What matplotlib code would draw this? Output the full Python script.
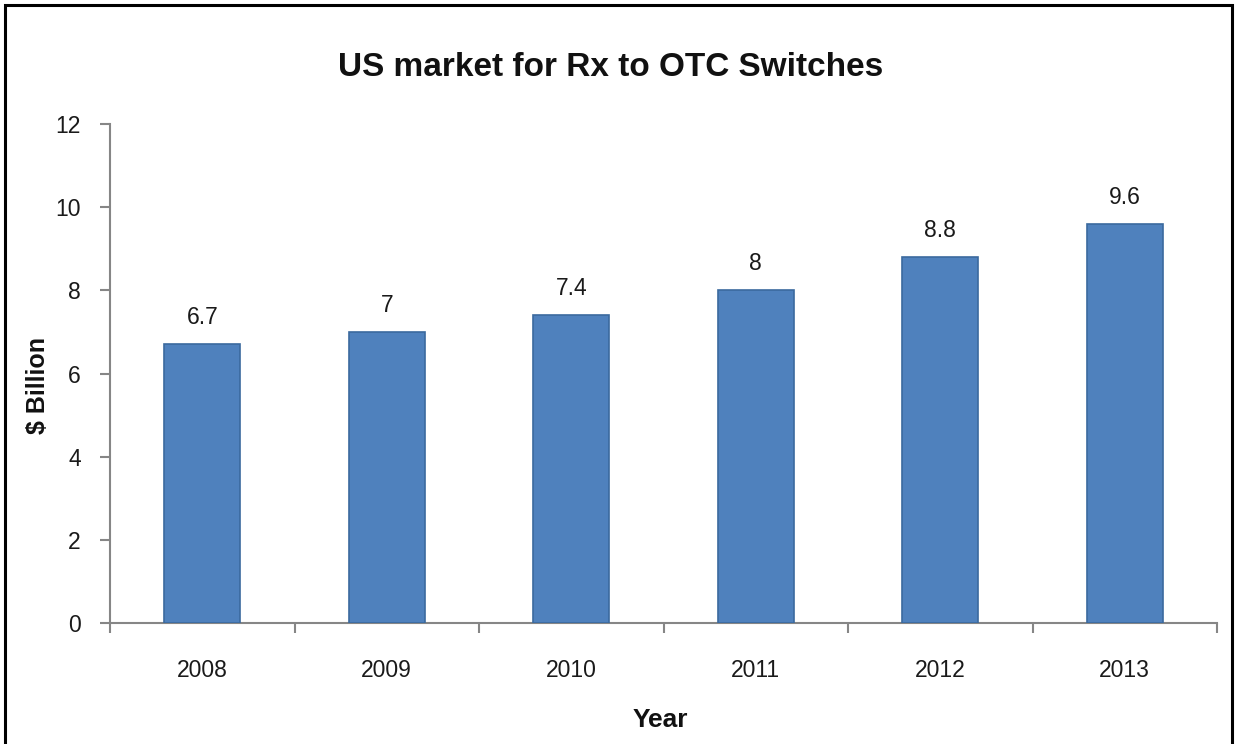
import numpy as np
import matplotlib
matplotlib.use('Agg')
import matplotlib.pyplot as plt
from matplotlib.patches import Rectangle

# data
years = ['2008', '2009', '2010', '2011', '2012', '2013']
market = [6.7, 7, 7.4, 8, 8.8, 9.6]
value_labels = ['6.7', '7', '7.4', '8', '8.8', '9.6']
yticks = [0, 2, 4, 6, 8, 10, 12]

plt.rcParams['font.family'] = ['Liberation Sans', 'DejaVu Sans']

fig = plt.figure(figsize=(12.35, 7.44), dpi=100)
ax = fig.add_axes([110 / 1235, 1 - 623 / 744, (1217 - 110) / 1235, (623 - 124) / 744])

x = np.arange(len(years))
ax.bar(x, market, width=0.41, color='#4F81BD', edgecolor='#3B6A9E', linewidth=1.2, zorder=3)

for xi, v, lab in zip(x, market, value_labels):
    ax.annotate(lab, (xi, v), xytext=(0, 11), textcoords='offset points',
                ha='center', va='bottom', fontsize=16.5, color='#1a1a1a')

ax.set_xlim(-0.5, len(years) - 0.5)
ax.set_ylim(0, 12)
ax.set_yticks(yticks)
ax.set_yticklabels([str(t) for t in yticks])

# category boundaries as major ticks, labels on minor ticks
ax.set_xticks(np.arange(-0.5, len(years), 1.0))
ax.set_xticklabels([])
ax.set_xticks(x, minor=True)
ax.set_xticklabels(years, minor=True)
ax.tick_params(axis='x', which='major', length=7, width=1.5, color='#868686', direction='out')
ax.tick_params(axis='x', which='minor', length=0, pad=26, labelsize=16.5, labelcolor='#1a1a1a')
ax.tick_params(axis='y', length=7, width=1.5, color='#868686', direction='out', pad=14,
               labelsize=16.5, labelcolor='#1a1a1a')

for side in ['top', 'right']:
    ax.spines[side].set_visible(False)
for side in ['left', 'bottom']:
    ax.spines[side].set_color('#868686')
    ax.spines[side].set_linewidth(1.5)

fig.text(611 / 1235, 1 - 67 / 744, 'US market for Rx to OTC Switches', ha='center', va='center',
         fontsize=24, fontweight='bold', color='#111111')
fig.text(660 / 1235, 1 - 720 / 744, 'Year', ha='center', va='center',
         fontsize=19, fontweight='bold', color='#111111')
fig.text(38 / 1235, 1 - 385 / 744, '$ Billion', ha='center', va='center', rotation=90,
         fontsize=18, fontweight='bold', color='#111111')

# outer chart border (bottom edge falls outside the picture)
fig.patches.append(Rectangle((5 / 1235, -0.05), (1232 - 5) / 1235, 1.05 - 5 / 744,
                             transform=fig.transFigure, fill=False, edgecolor='black',
                             linewidth=2.2))

fig.savefig('out.png', dpi=100)
